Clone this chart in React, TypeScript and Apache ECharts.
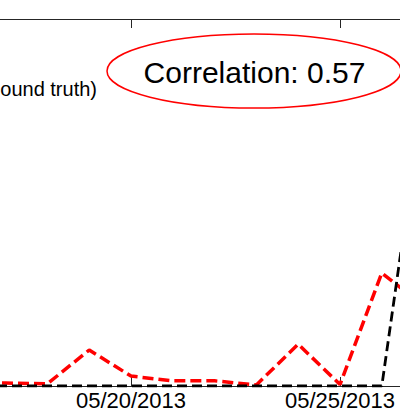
import React, { useEffect, useRef } from "react";
import * as echarts from "echarts";

// Days of May 2013
const days = [15, 16, 17, 18, 19, 20, 21, 22, 23, 24, 25, 26, 27];
// Estimate (red dashed)
const estimate = [0.008, 0.008, 0.008, 0.006, 0.098, 0.027, 0.014, 0.014, 0.003, 0.114, 0.004, 0.308, 0.219];
// Ground truth (black dashed)
const groundTruth = [0, 0, 0, 0, 0, 0, 0, 0, 0, 0, 0, 0, 0.8];
const shownTicks = [20, 25];
const annotation = "Correlation: 0.57";
const legendText = "ound truth)";

const OX = 100; // inner chart offset (chart extends beyond the visible frame)
const FONT = "'Liberation Sans', Arial, sans-serif";

export default function App() {
  const ref = useRef<HTMLDivElement>(null);
  useEffect(() => {
    document.body.style.margin = "0";
    const chart = echarts.init(ref.current!, null, { renderer: "svg" });
    const fmt = (v: number) =>
      shownTicks.includes(v) ? `05/${String(v).padStart(2, "0")}/2013` : "";
    const axisCommon = {
      type: "value" as const,
      min: 15,
      max: 28,
      interval: 5,
      splitLine: { show: false },
      axisLine: { show: true, lineStyle: { color: "#262626", width: 1 } },
      axisTick: { show: true, inside: true, length: 9, lineStyle: { color: "#262626", width: 1 } },
    };
    chart.setOption({
      animation: false,
      backgroundColor: "#ffffff",
      grid: { left: 22, right: 34.6, top: 19, bottom: 30, outerBoundsMode: "none", containLabel: false },
      xAxis: [
        {
          ...axisCommon,
          position: "bottom",
          axisLabel: {
            show: true,
            formatter: fmt,
            fontSize: 22,
            fontFamily: FONT,
            color: "#000",
            margin: 3,
            showMaxLabel: false,
            showMinLabel: false,
          },
        },
        {
          ...axisCommon,
          position: "top",
          axisLabel: { show: false },
        },
      ],
      yAxis: {
        type: "value",
        min: 0,
        max: 1,
        axisLabel: { show: false },
        splitLine: { show: false },
        axisTick: { show: false },
        axisLine: { show: true, lineStyle: { color: "#262626" } },
      },
      series: [
        {
          type: "line",
          data: days.map((d, i) => [d, estimate[i]]),
          symbol: "none",
          lineStyle: { color: "#ff0000", width: 3.5, type: [11, 5] },
        },
        {
          type: "line",
          data: days.map((d, i) => [d, groundTruth[i]]),
          symbol: "none",
          lineStyle: { color: "#000000", width: 2.8, type: [10, 5] },
        },
      ],
      graphic: [
        {
          type: "ellipse",
          shape: { cx: 254 + OX, cy: 71, rx: 147, ry: 37 },
          style: { fill: "none", stroke: "#ff0000", lineWidth: 1.5 },
          z: 100,
        },
        {
          type: "text",
          x: 254.5 + OX,
          y: 72,
          style: {
            text: annotation,
            fontSize: 30,
            fontFamily: FONT,
            fill: "#000",
            textAlign: "center",
            textVerticalAlign: "middle",
          },
          z: 100,
        },
        {
          type: "text",
          x: 97 + OX,
          y: 89,
          style: {
            text: legendText,
            fontSize: 20,
            fontFamily: FONT,
            fill: "#000",
            textAlign: "right",
            textVerticalAlign: "middle",
          },
          z: 100,
        },
      ],
    });
    return () => chart.dispose();
  }, []);
  return (
    <div style={{ position: "fixed", left: 0, top: 0, width: 400, height: 416, overflow: "hidden", background: "#fff" }}>
      <div ref={ref} style={{ position: "absolute", left: -OX, top: 0, width: 600, height: 416 }} />
    </div>
  );
}
